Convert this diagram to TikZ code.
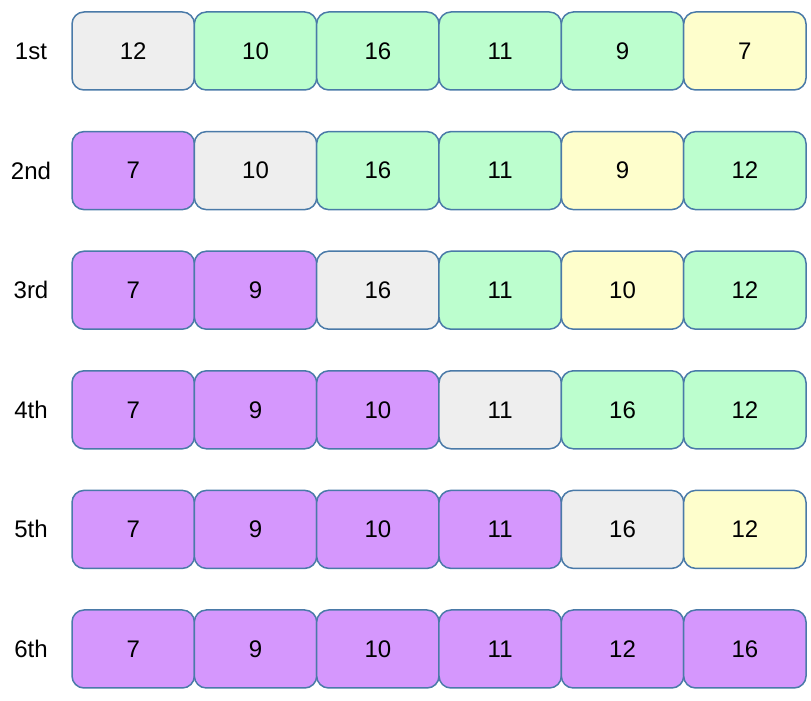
\documentclass[tikz,border=0pt]{standalone}
\usepackage{fontspec}
\setmainfont{Liberation Sans}
\usetikzlibrary{positioning}
\definecolor{cgray}{HTML}{EEEEEE}
\definecolor{cgreen}{HTML}{BCFECE}
\definecolor{cyellow}{HTML}{FEFECC}
\definecolor{cpurple}{HTML}{D597FD}
\definecolor{cborder}{HTML}{4A7AA8}
\begin{document}
\begin{tikzpicture}[x=0.5pt, y=-0.5pt]
    \tikzstyle{cell}=[draw=cborder, line width=0.75pt,
                      % The shape:
                      rounded corners=6pt, inner sep=0pt, outer sep=0pt,
                      minimum width=61.2pt, minimum height=39pt,
                      font=\fontsize{12}{14}\selectfont]
    \tikzstyle{pass}=[font=\fontsize{12}{14}\selectfont, inner sep=0pt]
    \useasboundingbox (0,0) rectangle (811,701);
    \foreach \r/\lab/\cells in {
        1/1st/{12/cgray,10/cgreen,16/cgreen,11/cgreen,9/cgreen,7/cyellow},
        2/2nd/{7/cpurple,10/cgray,16/cgreen,11/cgreen,9/cyellow,12/cgreen},
        3/3rd/{7/cpurple,9/cpurple,16/cgray,11/cgreen,10/cyellow,12/cgreen},
        4/4th/{7/cpurple,9/cpurple,10/cpurple,11/cgray,16/cgreen,12/cgreen},
        5/5th/{7/cpurple,9/cpurple,10/cpurple,11/cpurple,16/cgray,12/cyellow},
        6/6th/{7/cpurple,9/cpurple,10/cpurple,11/cpurple,12/cpurple,16/cpurple}} {
        \node[pass] (lab-\r) at (31, {51+119.6*(\r-1)}) {\lab};
        \foreach \v/\c [count=\i] in \cells
            \node[cell, fill=\c] (cell-\r-\i) at ({133.2+122.33*(\i-1)}, {51+119.6*(\r-1)}) {\v};
    }
\end{tikzpicture}
\end{document}
